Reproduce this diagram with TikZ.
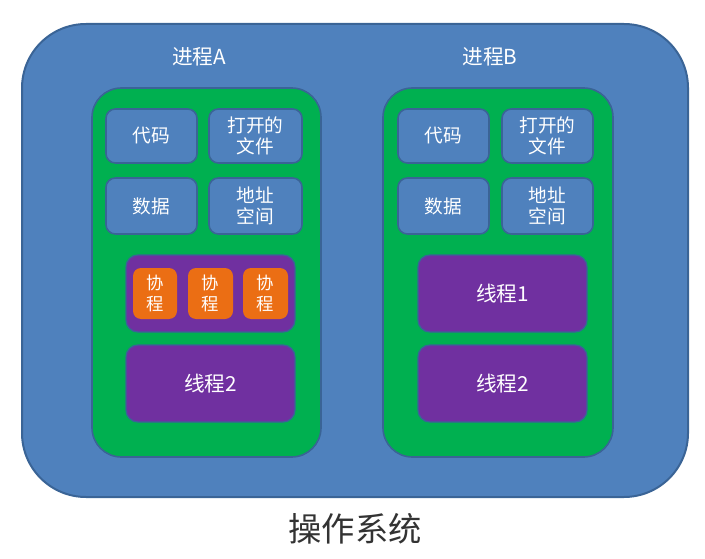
\documentclass[tikz,border=0pt]{standalone}
\usepackage{fontspec}
\setmainfont{Noto Sans CJK SC}
\usepackage{tikz}

\definecolor{osblue}{HTML}{4F81BD}
\definecolor{osedge}{HTML}{3A6496}
\definecolor{procgreen}{HTML}{00B050}
\definecolor{thrpurple}{HTML}{7030A0}
\definecolor{coorange}{HTML}{EB6E14}

\begin{document}
\begin{tikzpicture}[x=0.75pt,y=-0.75pt,
  wh/.style 2 args={minimum width=#1*0.75pt,minimum height=#2*0.75pt},
  osbox/.style={draw=osedge,line width=1.5pt,fill=osblue,rounded corners=48pt,inner sep=0pt},
  procbox/.style={draw=osedge,line width=1.2pt,fill=procgreen,rounded corners=22pt,inner sep=0pt},
  resbox/.style={draw=osedge,line width=1.2pt,fill=osblue,rounded corners=7pt,inner sep=0pt,
    text=white,align=center,font=\fontsize{14}{16}\selectfont},
  thrbox/.style={draw=osedge,line width=1pt,fill=thrpurple,rounded corners=9pt,inner sep=0pt,
    text=white,align=center,font=\fontsize{15.5}{18}\selectfont},
  cobox/.style={fill=coorange,rounded corners=6pt,inner sep=0pt,
    text=white,align=center,font=\fontsize{13}{15.5}\selectfont},
  title/.style={text=white,font=\fontsize{15.5}{18}\selectfont}]
\useasboundingbox (0,0) rectangle (705,559);

% operating system
\node[osbox, wh={666}{473}] (os) at (355,260.5) {};
\node[font=\fontsize{25}{30}\selectfont, text=black!80] (oslabel) at (355,529) {操作系统};

% process A
\node[title] (titleA) at (199,57) {进程A};
\node[procbox, wh={229}{369}] (procA) at (206.5,272.5) {};
\node[resbox, wh={91}{54}] (codeA) at (151.5,136) {代码};
\node[resbox, wh={93}{54}] (fileA) at (255.5,136) {打开的\\文件};
\node[resbox, wh={91}{56}] (dataA) at (151.5,206) {数据};
\node[resbox, wh={93}{56}] (addrA) at (255.5,206) {地址\\空间};
\node[thrbox, wh={169}{77}] (thrA1) at (210.5,293.5) {};
\node[cobox, wh={44}{51}] (coA1) at (155,293.5) {协\\程};
\node[cobox, wh={45}{51}] (coA2) at (210.5,293.5) {协\\程};
\node[cobox, wh={45}{51}] (coA3) at (265.5,293.5) {协\\程};
\node[thrbox, wh={169}{77}] (thrA2) at (210.5,383.5) {线程2};

% process B
\node[title] (titleB) at (490,57) {进程B};
\node[procbox, wh={230}{369}] (procB) at (498,272.5) {};
\node[resbox, wh={91}{54}] (codeB) at (443.5,136) {代码};
\node[resbox, wh={91}{54}] (fileB) at (547.5,136) {打开的\\文件};
\node[resbox, wh={91}{56}] (dataB) at (443.5,206) {数据};
\node[resbox, wh={91}{56}] (addrB) at (547.5,206) {地址\\空间};
\node[thrbox, wh={169}{77}] (thrB1) at (502.5,293.5) {线程1};
\node[thrbox, wh={169}{77}] (thrB2) at (502.5,383.5) {线程2};
\end{tikzpicture}
\end{document}
